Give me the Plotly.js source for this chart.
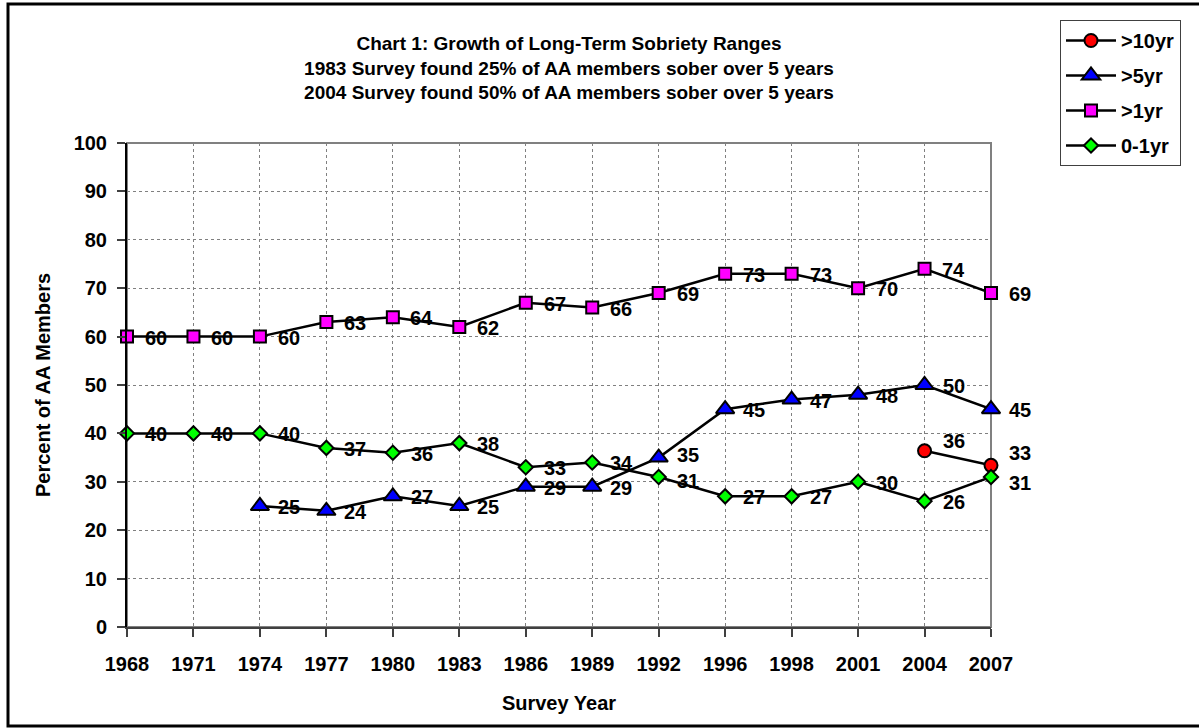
<!DOCTYPE html>
<html>
<head>
<meta charset="utf-8">
<script src="https://cdn.plot.ly/plotly-3.0.1.min.js"></script>
<style>
  html, body { margin: 0; padding: 0; background: #ffffff; }
  #chart { width: 1199px; height: 728px; }
</style>
</head>
<body>
<div id="chart"></div>
<script>
// ---- data ----
const years = ['1968','1971','1974','1977','1980','1983','1986','1989','1992','1996','1998','2001','2004','2007'];
const over10yr = [null,null,null,null,null,null,null,null,null,null,null,null,36.4,33.4];
const over5yr  = [null,null,25,24,27,25,29,29,35,45,47,48,50,45];
const over1yr  = [60,60,60,63,64,62,67,66,69,73,73,70,74,69];
const zeroTo1yr = [40,40,40,37,36,38,33,34,31,27,27,30,26,31];
const seriesNames = ['>10yr','>5yr','>1yr','0-1yr'];
const titleLines = [
  'Chart 1: Growth of Long-Term Sobriety Ranges',
  '1983 Survey found 25% of AA members sober over 5 years',
  '2004 Survey found 50% of AA members sober over 5 years'
];
const xTitle = 'Survey Year';
const yTitle = 'Percent of AA Members';

// ---- styling ----
const FONT = "'Liberation Sans', Arial, sans-serif";
const FS = 20;
const W = 1199, H = 728;
const M = {l: 127, r: 208, t: 143, b: 101};
const PW = W - M.l - M.r, PH = H - M.t - M.b;
const px = x => (x - M.l) / PW;
const py = y => (H - M.b - y) / PH;

const seriesData = [over10yr, over5yr, over1yr, zeroTo1yr];
const styles = [
  {symbol: 'circle', size: 13, color: '#FF0000'},
  {symbol: 'triangle-up', size: 16, color: '#0000FF'},
  {symbol: 'square', size: 12, color: '#FF00FF'},
  {symbol: 'diamond', size: 11, color: '#00FF00'}
];

const traces = seriesData.map((vals, i) => ({
  type: 'scatter',
  mode: 'lines+markers',
  name: seriesNames[i],
  legendgroup: 'g' + i,
  x: years,
  y: vals,
  line: {color: '#000000', width: 2.5},
  marker: {symbol: styles[i].symbol, size: styles[i].size, color: styles[i].color,
           line: {color: '#000000', width: 2}},
  cliponaxis: false,
  hoverinfo: 'x+y'
}));

// label vertical nudges (series index -> per-point)
function labelShift(si, j) {
  if (si === 0) return j === 12 ? 10 : 12;
  if (si === 3 && j === 13) return -6;
  if (si === 1 && j === 8) return 3;
  if (si === 3 && j === 8) return -4;
  return -1;
}

const annotations = [];
seriesData.forEach((vals, si) => {
  vals.forEach((v, j) => {
    if (v === null) return;
    annotations.push({
      x: j, y: v, xref: 'x', yref: 'y',
      text: String(Math.round(v)),
      showarrow: false, xshift: 29, yshift: labelShift(si, j),
      font: {family: FONT, size: FS, color: '#000000', weight: 'bold'}
    });
  });
});

const layout = {
  width: W, height: H,
  margin: M,
  paper_bgcolor: '#ffffff',
  plot_bgcolor: '#ffffff',
  font: {family: FONT, size: FS, color: '#000000', weight: 'bold'},
  showlegend: true,
  title: {
    text: titleLines.join('<br>'),
    xref: 'container', x: 569 / W, xanchor: 'center',
    yref: 'container', y: 1 - 50 / H, yanchor: 'middle',
    font: {family: FONT, size: 19, color: '#000000', weight: 'bold'}
  },
  xaxis: {
    type: 'category',
    range: [0, years.length - 1],
    showgrid: true, gridcolor: '#808080', gridwidth: 1, griddash: 'dot',
    showline: true, linecolor: '#404040', linewidth: 2,
    ticks: 'outside', ticklen: 8, tickwidth: 2, tickcolor: '#404040',
    tickfont: {family: FONT, size: FS, weight: 'bold'},
    ticklabelstandoff: 10,
    title: {text: xTitle, font: {family: FONT, size: FS, weight: 'bold'}, standoff: 22},
    zeroline: false, fixedrange: true
  },
  yaxis: {
    range: [0, 100], dtick: 10, tick0: 0,
    showgrid: true, gridcolor: '#808080', gridwidth: 1, griddash: 'dot',
    showline: true, linecolor: '#000000', linewidth: 2,
    ticks: 'outside', ticklen: 8, tickwidth: 2, tickcolor: '#404040',
    tickfont: {family: FONT, size: FS, weight: 'bold'},
    ticklabelstandoff: 6,
    title: {text: yTitle, font: {family: FONT, size: FS, weight: 'bold'}, standoff: 18},
    zeroline: false, fixedrange: true
  },
  legend: {
    x: px(1060), xanchor: 'left',
    y: py(20), yanchor: 'top',
    bgcolor: '#ffffff', bordercolor: '#404040', borderwidth: 1,
    font: {family: FONT, size: FS, color: '#000000', weight: 'bold'},
    traceorder: 'grouped', tracegroupgap: 6,
    itemwidth: 50
  },
  shapes: [
    {type: 'rect', xref: 'paper', yref: 'paper', x0: 0, x1: 1, y0: 0, y1: 1,
     line: {color: '#808080', width: 2}, layer: 'below'},
    {type: 'rect', xref: 'paper', yref: 'paper',
     x0: px(8), x1: px(1215), y0: py(726), y1: py(4),
     line: {color: '#000000', width: 3}, fillcolor: 'rgba(0,0,0,0)', layer: 'above'}
  ],
  annotations: annotations
};

Plotly.newPlot('chart', traces, layout, {displayModeBar: false, staticPlot: true});
</script>
</body>
</html>
